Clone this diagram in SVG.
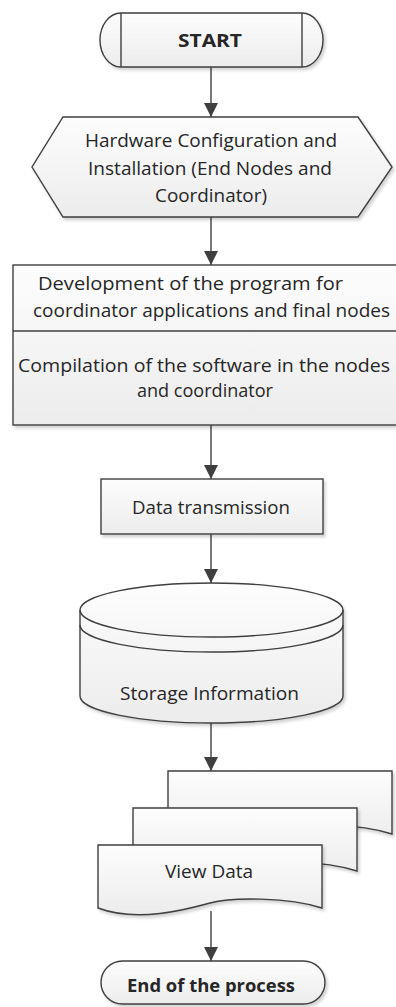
<svg xmlns="http://www.w3.org/2000/svg" width="396" height="1007" viewBox="0 0 396 1007">
<style>
.shape{fill:url(#g);stroke:#3f3f3f;stroke-width:1.4;filter:url(#sh)}
.ln{fill:none;stroke:#3f3f3f;stroke-width:1.4}
.t{font-family:"Open Sans","Liberation Sans",sans-serif;font-size:18.6px;fill:#262626;text-anchor:middle}
.b{font-weight:bold;font-size:18.6px}
.c{stroke:#3f3f3f;stroke-width:1.4;fill:none;marker-end:url(#ah)}
</style>
<defs>
<linearGradient id="g" x1="0" y1="0" x2="0" y2="1">
<stop offset="0" stop-color="#fdfdfd"/>
<stop offset="1" stop-color="#ececec"/>
</linearGradient>
<filter id="sh" x="-10%" y="-10%" width="130%" height="140%">
<feDropShadow dx="2" dy="2.5" stdDeviation="1.5" flood-color="#000" flood-opacity="0.18"/>
</filter>
<marker id="ah" viewBox="0 0 10 10" refX="10" refY="5" markerUnits="userSpaceOnUse" markerWidth="14" markerHeight="14" orient="auto">
<path d="M0,0 L10,5 L0,10 Z" fill="#3f3f3f"/>
</marker>
</defs>
<rect width="396" height="1007" fill="#fff"/>
<g id="connectors">
<line class="c" x1="211" y1="67" x2="211" y2="117"/>
<line class="c" x1="211" y1="217" x2="211" y2="265"/>
<line class="c" x1="211" y1="425" x2="211" y2="479"/>
<line class="c" x1="211" y1="534" x2="211" y2="583"/>
<line class="c" x1="211" y1="723" x2="211" y2="771"/>
<line class="c" x1="211" y1="911" x2="211" y2="961"/>
</g>
<g id="start">
<path class="shape" d="M121,13 H302 A21,27 0 0 1 302,67 H121 A21,27 0 0 1 121,13 Z"/>
<line class="ln" x1="121" y1="13" x2="121" y2="67"/>
<line class="ln" x1="302" y1="13" x2="302" y2="67"/>
<text class="t b" x="210" y="47" textLength="64" lengthAdjust="spacingAndGlyphs">START</text>
</g>
<g id="hardware">
<path class="shape" d="M63,117 H358 L392,167 L358,217 H63 L32,167 Z"/>
<text class="t" x="211" y="146.5" textLength="252" lengthAdjust="spacingAndGlyphs">Hardware Configuration and</text>
<text class="t" x="210" y="174.5" textLength="244" lengthAdjust="spacingAndGlyphs">Installation (End Nodes and</text>
<text class="t" x="211" y="201.5" textLength="112" lengthAdjust="spacingAndGlyphs">Coordinator)</text>
</g>
<g id="development">
<rect class="shape" x="13" y="265" width="384" height="160"/>
<line class="ln" x1="13" y1="331" x2="397" y2="331"/>
<text class="t" x="190.5" y="290" textLength="305" lengthAdjust="spacingAndGlyphs">Development of the program for</text>
<text class="t" x="211.5" y="316.5" textLength="357" lengthAdjust="spacingAndGlyphs">coordinator applications and final nodes</text>
<text class="t" x="204" y="371.5" textLength="372" lengthAdjust="spacingAndGlyphs">Compilation of the software in the nodes</text>
<text class="t" x="205" y="396.5" textLength="136" lengthAdjust="spacingAndGlyphs">and coordinator</text>
</g>
<g id="transmission">
<rect class="shape" x="101" y="479" width="222" height="55"/>
<text class="t" x="211" y="514" textLength="158" lengthAdjust="spacingAndGlyphs">Data transmission</text>
</g>
<g id="storage">
<path class="shape" d="M80,610 A131.5,27 0 0 1 343,610 V696 A131.5,27 0 0 1 80,696 Z"/>
<path class="ln" d="M80,610 A131.5,27 0 0 0 343,610"/>
<path class="ln" d="M80,625 A131.5,27 0 0 0 343,625"/>
<text class="t" x="209.5" y="700" textLength="179" lengthAdjust="spacingAndGlyphs">Storage Information</text>
</g>
<g id="view">
<path class="shape" d="M168,771 H392 V834 C358,823 302,823 280,829 C258,835 208,849 168,834 Z"/>
<path class="shape" d="M133,808 H357 V871 C323,860 267,860 245,866 C223,872 173,886 133,871 Z"/>
<path class="shape" d="M98,845 H322 V908 C288,897 232,897 210,903 C188,909 138,923 98,908 Z"/>
<text class="t" x="209" y="878" textLength="88" lengthAdjust="spacingAndGlyphs">View Data</text>
</g>
<g id="end">
<rect class="shape" x="101" y="961" width="224" height="43" rx="21.5" ry="21.5"/>
<text class="t b" x="211" y="991.5" textLength="168" lengthAdjust="spacingAndGlyphs">End of the process</text>
</g>
</svg>
